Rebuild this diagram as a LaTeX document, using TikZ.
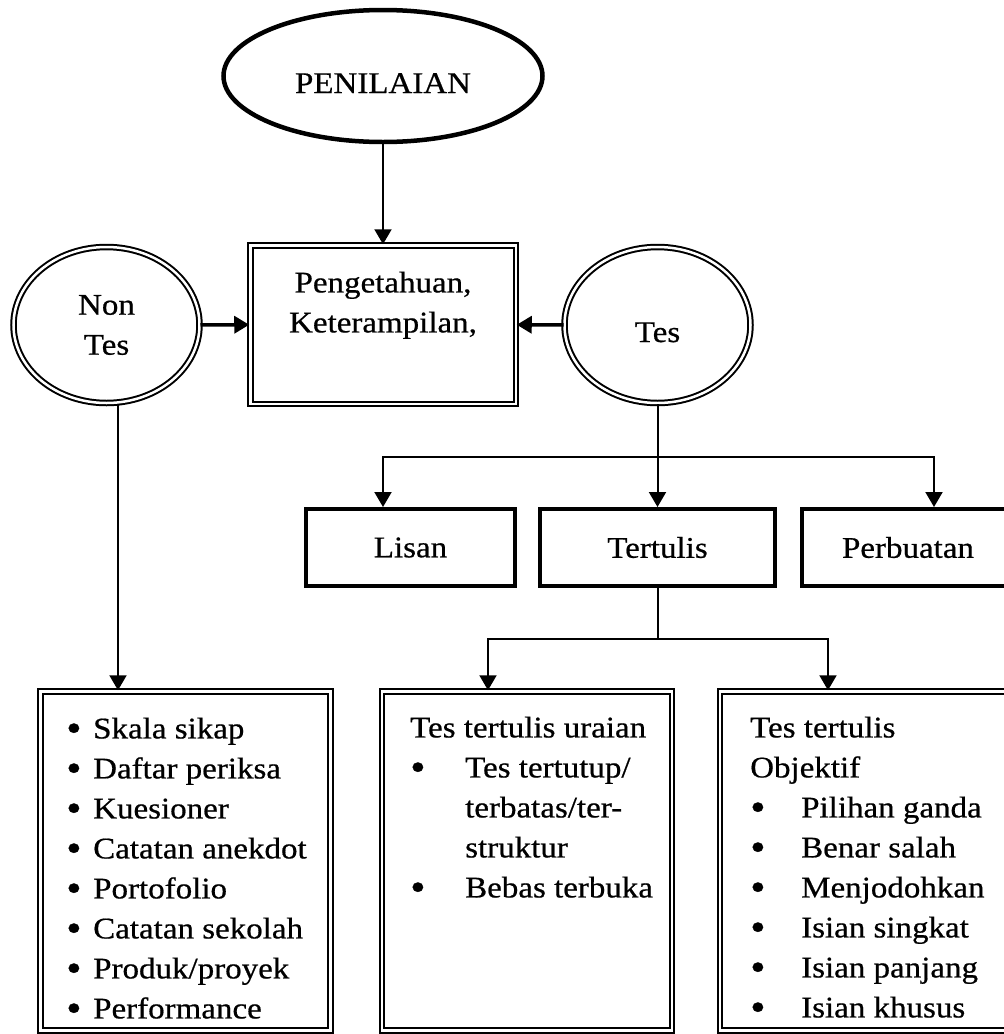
\documentclass[tikz,border=0pt]{standalone}
\usepackage{fontspec}
\setmainfont{Liberation Serif}[FakeStretch=1.1, FakeBold=0.6]
\usetikzlibrary{arrows.meta,positioning,shapes.geometric}
\newcommand{\itm}[1]{\makebox[#1][l]{\raisebox{-3pt}{\fontsize{40}{40}\selectfont\textbullet}}}

\begin{document}
\begin{tikzpicture}[x=1pt, y=-1pt, font=\fontsize{30}{40}\selectfont,
                    oval/.style = {draw, ellipse, line width=4.5pt, inner sep=0pt},
                    dblnode/.style = {draw, line width=2pt, double distance=2.5pt, inner sep=0pt},
                    ringnode/.style = {dblnode, ellipse, minimum width=186pt, minimum height=156pt, align=center},
                    boxnode/.style = {draw, rectangle, line width=4pt, minimum height=77pt, inner sep=0pt},
                    listbox/.style = {dblnode, rectangle, minimum width=290pt, minimum height=339pt},
                    listtext/.style = {anchor=north west, align=left, inner sep=0pt},
                    arr/.style = {-{Triangle[length=15pt, width=17pt]}, line width=2pt}]
        \useasboundingbox (0,0) rectangle (1004,1034);
        \clip (0,0) rectangle (1004,1034);
        \node[oval, minimum width=319pt, minimum height=132pt, text height=34pt, text depth=0pt] (nilai) at (383,76) {PENILAIAN};
        \node[dblnode, rectangle, minimum width=265.5pt, minimum height=158.5pt] (pk) at (383,324.5) {};
        \node[inner sep=0pt, anchor=north, align=center] (pktext) at (383,271.4) {Pengetahuan,\\Keterampilan,};
        \node[ringnode] (nontes) at (106.5,325) {Non\\Tes};
        \node[ringnode, text height=34pt, text depth=0pt] (tes) at (657.5,325) {Tes};
        \node[boxnode, minimum width=209pt] (lisan) at (410.5,547.5) {Lisan};
        \node[boxnode, minimum width=235pt] (tulis) at (657.5,547.5) {Tertulis};
        \node[boxnode, minimum width=212pt] (buat) at (908,547.5) {Perbuatan};
        \node[listbox] (nonlist) at (185.5,860.75) {};
        \node[listbox] (uraian) at (527,860.75) {};
        \node[listbox] (objektif) at (865,860.75) {};
        \node[listtext] (nontext) at (66,717.4) {\itm{27pt}Skala sikap\\\itm{27pt}Daftar periksa\\\itm{27pt}Kuesioner\\\itm{27pt}Catatan anekdot\\\itm{27pt}Portofolio\\\itm{27pt}Catatan sekolah\\\itm{27pt}Produk/proyek\\\itm{27pt}Performance};
        \node[listtext] (uraiantext) at (410,716.4) {Tes tertulis uraian\\\itm{55pt}Tes tertutup/\\\hspace*{55pt}terbatas/ter-\\\hspace*{55pt}struktur\\\itm{55pt}Bebas terbuka};
        \node[listtext] (objtext) at (750,716.4) {Tes tertulis\\Objektif\\\itm{51pt}Pilihan ganda\\\itm{51pt}Benar salah\\\itm{51pt}Menjodohkan\\\itm{51pt}Isian singkat\\\itm{51pt}Isian panjang\\\itm{51pt}Isian khusus};
        \coordinate (fork) at (657.5,457);
        \coordinate (fork2) at (657.5,639);
        \coordinate (ntdown) at ([xshift=11.5pt]nontes.south);
        \draw[arr] (nilai) -- (pk);
        \draw[arr, line width=3.5pt] (nontes) -- (pk);
        \draw[arr, line width=3.5pt] (tes) -- (pk);
        \draw[arr] (tes) -- (tulis);
        \draw[arr] (fork) -| ([xshift=-27.5pt]lisan.north);
        \draw[arr] (fork) -| ([xshift=26pt]buat.north);
        \draw[line width=2pt] (tulis) -- (fork2);
        \draw[arr] (fork2) -| ([xshift=-39pt]uraian.north);
        \draw[arr] (fork2) -| ([xshift=-37pt]objektif.north);
        \draw[arr] (ntdown) -- (ntdown |- nonlist.north);
    \end{tikzpicture}
\end{document}
